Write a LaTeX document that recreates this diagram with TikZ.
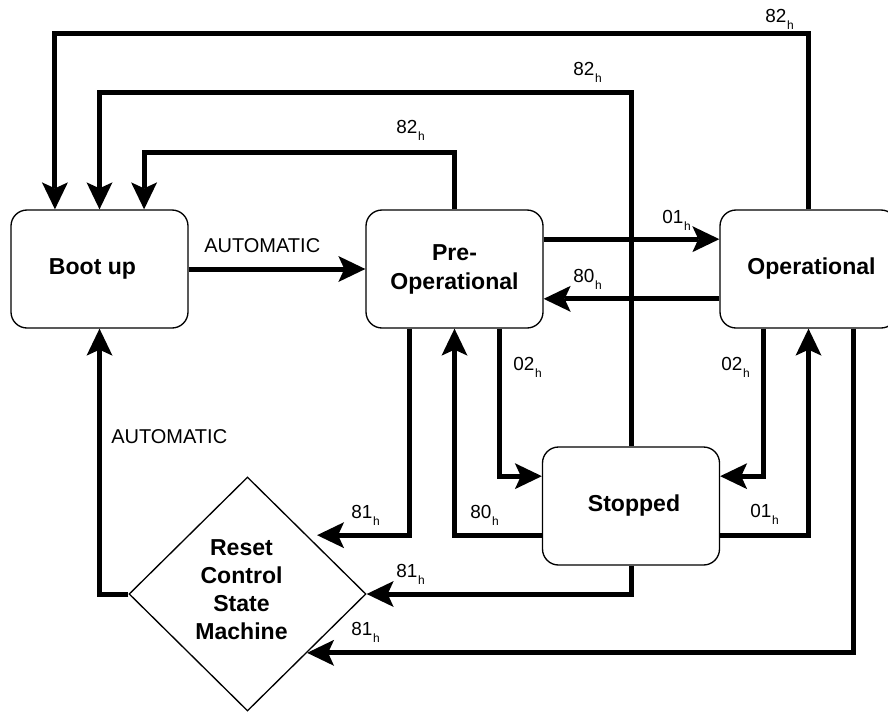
\documentclass[tikz,border=0pt]{standalone}
\usepackage{fontspec}
\setmainfont{Liberation Sans}
\usetikzlibrary{arrows.meta,shapes.geometric,calc}

% hexadecimal command code with a small lowered "h"
\newcommand\hexcode[1]{#1\kern0.6pt\raisebox{-5.25pt}{\fontsize{9}{9}\selectfont h}}

\begin{document}
\begin{tikzpicture}[x=0.75pt,y=-0.75pt,
  statebox/.style={draw, line width=1pt, rounded corners=12pt,
    minimum width=132.75pt, minimum height=88.5pt, inner sep=0pt,
    font=\bfseries\fontsize{17.3}{21.75}\selectfont},
  conn/.style={line width=3.75pt,
    -{Stealth[length=20.25pt,width=19.5pt,inset=4.5pt,line width=0pt]}},
  hexlbl/.style={inner sep=0pt, anchor=base west, font=\fontsize{14.2}{17}\selectfont},
  wordlbl/.style={inner sep=0pt, anchor=base west, font=\fontsize{15}{18}\selectfont}]

\useasboundingbox (0,0) rectangle (888,711);
\clip (0,0) rectangle (888,711);

% states
\node[statebox] (boot) at (99.5,269) {Boot up\kern10.5pt};
\node[statebox, align=center] (pre) at (454.5,269) {Pre-\\Operational};
\node[statebox] (op) at (808.5,269) {\kern4.5pt Operational};
\node[statebox] (stop) at (631,506) {\kern4.5pt Stopped};
\node[draw, diamond, line width=1pt, minimum width=177.75pt, minimum height=175.5pt,
  inner sep=0pt] (reset) at (247.5,594) {};
\node[align=center, inner sep=0pt, font=\bfseries\fontsize{17.3}{21}\selectfont]
  (resettxt) at (241.5,590) {Reset\\Control\\State\\Machine};

% attachment points on the box sides
\coordinate (bootN1) at ($(boot.north west)!0.25!(boot.north east)$);
\coordinate (bootN3) at ($(boot.north west)!0.75!(boot.north east)$);
\coordinate (preE1) at ($(pre.north east)!0.25!(pre.south east)$);
\coordinate (opW3) at ($(op.north west)!0.75!(op.south west)$);
\coordinate (preS1) at ($(pre.south west)!0.25!(pre.south east)$);
\coordinate (preS3) at ($(pre.south west)!0.75!(pre.south east)$);
\coordinate (stopW1) at ($(stop.north west)!0.25!(stop.south west)$);
\coordinate (stopW3) at ($(stop.north west)!0.75!(stop.south west)$);
\coordinate (stopE1) at ($(stop.north east)!0.25!(stop.south east)$);
\coordinate (stopE3) at ($(stop.north east)!0.75!(stop.south east)$);
\coordinate (opS1) at ($(op.south west)!0.25!(op.south east)$);
\coordinate (opS3) at ($(op.south west)!0.75!(op.south east)$);
% heights of the three return rails to Boot up
\coordinate (railA) at (0,33);
\coordinate (railB) at (0,92.5);
\coordinate (railC) at (0,152);

% transitions
\draw[conn] (boot) -- (pre);
\draw[conn] (pre.north) -- (pre.north |- railC) -| (bootN3);
\draw[conn] (stop.north) -- (stop.north |- railB) -| (boot.north);
\draw[conn] (op.north) -- (op.north |- railA) -| (bootN1);
\draw[conn] (preE1) -- (preE1 -| op.west);
\draw[conn] (opW3) -- (opW3 -| pre.east);
\draw[conn] (preS3) |- (stopW1);
\draw[conn] (stopW3) -| (pre.south);
\draw[conn, shorten >=7.5pt] (preS1) |- (reset.north east);
\draw[conn] (stop.south) |- (reset.east);
\draw[conn] (opS3) |- (reset.south east);
\draw[conn] (reset.west) -| (boot.south);
\draw[conn] (stopE3) -| (op.south);
\draw[conn] (opS1) |- (stopE1);

% transition labels
\node[hexlbl] (l82a) at (765,22) {\hexcode{82}};
\node[hexlbl] (l82b) at (573,75) {\hexcode{82}};
\node[hexlbl] (l82c) at (396,133) {\hexcode{82}};
\node[wordlbl] (lauto1) at (204,252) {AUTOMATIC};
\node[hexlbl] (l01a) at (662,223) {\hexcode{01}};
\node[hexlbl] (l80a) at (573,282) {\hexcode{80}};
\node[hexlbl] (l02a) at (513,370) {\hexcode{02}};
\node[hexlbl] (l02b) at (721,370) {\hexcode{02}};
\node[wordlbl] (lauto2) at (111,443) {AUTOMATIC};
\node[hexlbl] (l81a) at (351,518) {\hexcode{81}};
\node[hexlbl] (l80b) at (470,518) {\hexcode{80}};
\node[hexlbl] (l01b) at (750,517) {\hexcode{01}};
\node[hexlbl] (l81b) at (396,577) {\hexcode{81}};
\node[hexlbl] (l81c) at (351,635) {\hexcode{81}};
\end{tikzpicture}
\end{document}
